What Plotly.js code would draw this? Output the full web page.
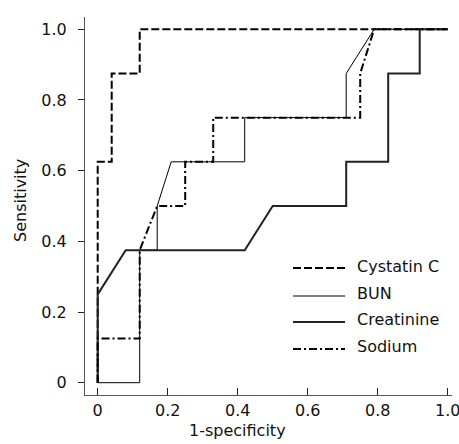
<!DOCTYPE html>
<html>
<head>
<meta charset="utf-8">
<script src="https://cdn.plot.ly/plotly-3.0.1.min.js"></script>
<style>html,body{margin:0;padding:0;background:#fff;}#chart{width:459px;height:444px;}</style>
</head>
<body>
<div id="chart"></div>
<script>
// ROC curve vertices
const cystatinX = [0, 0, 0.04, 0.04, 0.12, 0.12, 1.0];
const cystatinY = [0, 0.625, 0.625, 0.875, 0.875, 1.0, 1.0];

const bunX = [0, 0.12, 0.12, 0.17, 0.17, 0.21, 0.42, 0.42, 0.71, 0.71, 0.79, 1.0];
const bunY = [0, 0, 0.375, 0.375, 0.5, 0.625, 0.625, 0.75, 0.75, 0.875, 1.0, 1.0];

const creatinineX = [0, 0, 0.08, 0.42, 0.5, 0.71, 0.71, 0.83, 0.83, 0.92, 0.92, 1.0];
const creatinineY = [0, 0.25, 0.375, 0.375, 0.5, 0.5, 0.625, 0.625, 0.875, 0.875, 1.0, 1.0];

const sodiumX = [0, 0, 0.12, 0.12, 0.17, 0.25, 0.25, 0.33, 0.33, 0.75, 0.75, 0.79, 1.0];
const sodiumY = [0, 0.125, 0.125, 0.375, 0.5, 0.5, 0.625, 0.625, 0.75, 0.75, 0.875, 1.0, 1.0];

const seriesNames = ["Cystatin C", "BUN", "Creatinine", "Sodium"];
const tickVals = [0, 0.2, 0.4, 0.6, 0.8, 1.0];
const tickText = ["0", "0.2", "0.4", "0.6", "0.8", "1.0"];
const xTitle = "1-specificity";
const yTitle = "Sensitivity";

const FONT = "DejaVu Sans, Verdana, sans-serif";
const styles = [
  {color: "#000", width: 2, dash: "8px,3px"},
  {color: "#000", width: 1, dash: "solid"},
  {color: "#222", width: 2, dash: "solid"},
  {color: "#000", width: 2, dash: "8px,3px,2px,3px"}
];
const xs = [cystatinX, bunX, creatinineX, sodiumX];
const ys = [cystatinY, bunY, creatinineY, sodiumY];

const traces = seriesNames.map((n, i) => ({
  type: "scatter", mode: "lines", name: n,
  x: xs[i], y: ys[i],
  line: {color: styles[i].color, width: styles[i].width, dash: styles[i].dash},
  showlegend: false, hoverinfo: "skip"
}));

// plot area geometry (pixels)
const L = 85, R = 452, T = 17, B = 395, W = 459, H = 444;
const px = p => (p - L) / (R - L);
const py = p => (B - p) / (B - T);

// custom legend
const legLineY = [268, 296, 322, 349];
const legTextY = [266, 293, 319, 346];
const shapes = [];
const annotations = [];
seriesNames.forEach((n, i) => {
  shapes.push({type: "line", xref: "paper", yref: "paper",
    x0: px(293), x1: px(345), y0: py(legLineY[i]), y1: py(legLineY[i]),
    line: {color: styles[i].color, width: styles[i].width, dash: styles[i].dash}});
  annotations.push({xref: "paper", yref: "paper", x: px(355), y: py(legTextY[i]),
    xanchor: "left", yanchor: "middle", text: n, showarrow: false,
    font: {family: FONT, size: 16, color: "#111"}});
});
annotations.push({xref: "paper", yref: "paper", x: px(237), y: py(430),
  xanchor: "center", yanchor: "middle", text: xTitle, showarrow: false,
  font: {family: FONT, size: 16, color: "#111"}});
annotations.push({xref: "paper", yref: "paper", x: px(20), y: py(201),
  xanchor: "center", yanchor: "middle", text: yTitle, showarrow: false, textangle: -90,
  font: {family: FONT, size: 16, color: "#111"}});

const layout = {
  width: W, height: H,
  margin: {l: L, r: W - R, t: T, b: H - B, pad: 0},
  paper_bgcolor: "#fff", plot_bgcolor: "#fff",
  showlegend: false,
  font: {family: FONT, size: 16, color: "#111"},
  xaxis: {
    range: [(L - 97.7) / 350, (R - 97.7) / 350],
    tickvals: tickVals, ticktext: tickText,
    ticks: "inside", ticklen: 7, tickwidth: 1, tickcolor: "#222",
    showline: true, linecolor: "#555", linewidth: 1,
    showgrid: false, zeroline: false, ticklabelstandoff: 1,
    ticklabeloverflow: "allow",
    tickfont: {family: FONT, size: 16, color: "#111"}
  },
  yaxis: {
    range: [(382.7 - B) / 353.4, (382.7 - T) / 353.4],
    tickvals: tickVals, ticktext: tickText,
    ticks: "outside", ticklen: 6, tickwidth: 1, tickcolor: "#222",
    showline: true, linecolor: "#555", linewidth: 1,
    showgrid: false, zeroline: false, ticklabelstandoff: 8,
    ticklabeloverflow: "allow",
    tickfont: {family: FONT, size: 16, color: "#111"}
  },
  shapes: shapes,
  annotations: annotations
};

Plotly.newPlot("chart", traces, layout, {displayModeBar: false, staticPlot: true});
</script>
</body>
</html>
